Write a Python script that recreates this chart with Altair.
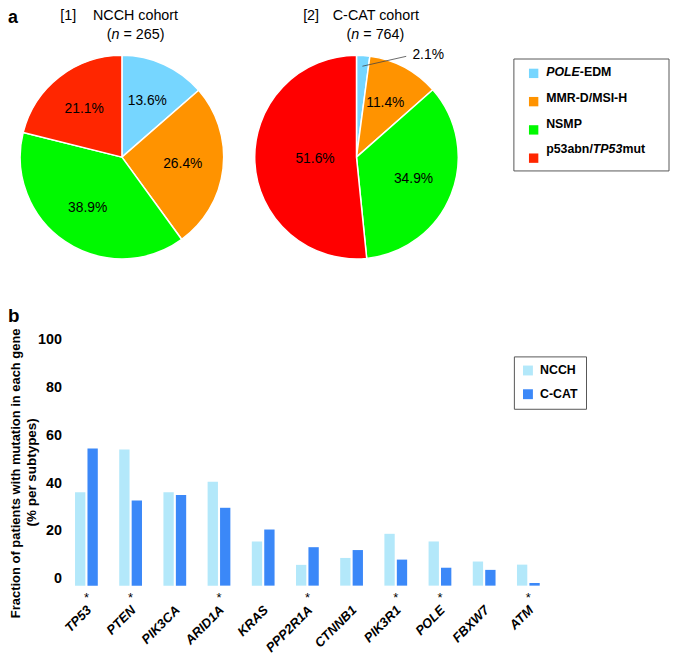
import altair as alt
import pandas as pd

FONT = "Liberation Sans"

# ---------------- data ----------------
subtypes = ["POLE-EDM", "MMR-D/MSI-H", "NSMP", "p53abn/TP53mut"]
ncch_pct = [13.6, 26.4, 38.9, 21.1]
ccat_pct = [2.1, 11.4, 34.9, 51.6]

genes = ["TP53", "PTEN", "PIK3CA", "ARID1A", "KRAS", "PPP2R1A",
         "CTNNB1", "PIK3R1", "POLE", "FBXW7", "ATM"]
ncch_mut = [39.1, 57.0, 39.1, 43.5, 18.5, 8.7, 11.6, 21.7, 18.5, 10.1, 8.8]
ccat_mut = [57.4, 35.6, 38.0, 32.6, 23.5, 16.1, 14.9, 10.9, 7.5, 6.6, 1.1]
significant = ["TP53", "PTEN", "ARID1A", "PPP2R1A", "PIK3R1", "POLE", "ATM"]
cohorts = ["NCCH", "C-CAT"]

pie_colors1 = ["#76D6FF", "#FF9300", "#00F900", "#FF2600"]
pie_colors2 = ["#76D6FF", "#FF9300", "#00F900", "#FF0000"]
bar_colors = ["#B3E8FA", "#3B88F8"]

pie1 = pd.DataFrame({"subtype": subtypes, "pct": ncch_pct, "k": range(4)})
pie2 = pd.DataFrame({"subtype": subtypes, "pct": ccat_pct, "k": range(4)})
bars_df = pd.DataFrame(
    [{"gene": g, "cohort": "NCCH", "value": v} for g, v in zip(genes, ncch_mut)]
    + [{"gene": g, "cohort": "C-CAT", "value": v} for g, v in zip(genes, ccat_mut)]
)
star_df = pd.DataFrame({"gene": significant})
dummy = pd.DataFrame({"d": [0]})

W, H = 670, 649
C1 = (115.3, 147)
C2 = (352.7, 147)
R = 103


def txt(s, x, y, size=14.5, weight="normal", style="normal", align="left",
        baseline="middle", angle=0):
    return alt.Chart(dummy).mark_text(
        text=s, font=FONT, fontSize=size, fontWeight=weight, fontStyle=style,
        align=align, baseline=baseline, angle=angle, color="black"
    ).encode(x=alt.value(x), y=alt.value(y))


def arcs(df, c, colors, legend):
    return alt.Chart(df).mark_arc(outerRadius=R, stroke="white", strokeWidth=1.5).encode(
        theta=alt.Theta("pct:Q", stack=True),
        color=alt.Color("subtype:N", scale=alt.Scale(domain=subtypes, range=colors),
                        legend=legend),
        order=alt.Order("k:Q"),
        x=alt.value(c[0]), y=alt.value(c[1]),
    )


def pie_labels(df, c):
    return alt.Chart(df).transform_calculate(
        lab="datum.pct > 5 ? format(datum.pct, '.1f') + '%' : ''"
    ).mark_text(
        radius=alt.expr("datum.pct > 50 ? 42 : 62"), font=FONT, fontSize=14, color="black"
    ).encode(
        theta=alt.Theta("pct:Q", stack=True),
        order=alt.Order("k:Q"),
        text="lab:N",
        x=alt.value(c[0]), y=alt.value(c[1]),
    )


LEG_Y0, LEG_STEP = 61, 26.1
pie_legend = alt.Legend(
    orient="none", legendX=526, legendY=LEG_Y0 - 4.75, title=None, symbolType="square",
    symbolSize=90, symbolStrokeWidth=0, labelFont=FONT, labelFontSize=12,
    labelExpr="''", labelOffset=0, rowPadding=LEG_STEP - 9.5, padding=0,
)

p1 = arcs(pie1, C1, pie_colors1, pie_legend)
p2 = arcs(pie2, C2, pie_colors2, None)
l1 = pie_labels(pie1, C1)
l2 = pie_labels(pie2, C2)

small_lab = alt.Chart(pie2).transform_calculate(
    lab="datum.pct < 5 ? format(datum.pct, '.1f') + '%' : ''"
).mark_text(radius=100, align="left", dx=50, dy=-4, font=FONT, fontSize=14,
            color="black").encode(
    theta=alt.Theta("pct:Q", stack=True), order=alt.Order("k:Q"), text="lab:N",
    x=alt.value(C2[0]), y=alt.value(C2[1]),
)
leader = alt.Chart(dummy).mark_rule(color="#444", strokeWidth=0.8).encode(
    x=alt.value(358.7), y=alt.value(55), x2=alt.value(403), y2=alt.value(45)
)

legend_box = alt.Chart(dummy).mark_rect(fillOpacity=0, stroke="#555", strokeWidth=1).encode(
    x=alt.value(512), x2=alt.value(669), y=alt.value(47.7), y2=alt.value(161)
)

# legend labels with mixed italic segments
LX = 544.7
LS = 12.5
TY = LEG_Y0
leg_texts = [
    txt("POLE", LX, TY, size=LS, weight="bold", style="italic"),
    txt("-EDM", LX + 34.0, TY, size=LS, weight="bold"),
    txt("MMR-D/MSI-H", LX, TY + LEG_STEP, size=LS, weight="bold"),
    txt("NSMP", LX, TY + 2 * LEG_STEP, size=LS, weight="bold"),
    txt("p53abn/", LX, TY + 3 * LEG_STEP, size=LS, weight="bold"),
    txt("TP53", LX + 47.2, TY + 3 * LEG_STEP, size=LS, weight="bold", style="italic"),
    txt("mut", LX + 77.3, TY + 3 * LEG_STEP, size=LS, weight="bold"),
]

# ---------------- bar chart ----------------
x_scale = alt.Scale(domain=genes, range=[57, 549], paddingInner=0.485, paddingOuter=0.2425)
x_axis = alt.Axis(
    title=None, labelAngle=-45, labelAlign="right", labelBaseline="middle",
    labelFont=FONT, labelFontSize=13.2, labelFontWeight="bold", labelFontStyle="italic",
    labelColor="black", domain=False, ticks=False, tickSize=0, labelPadding=0,
    offset=-46, labelOffset=3, labelOverlap=False, labelLimit=300,
)
x_enc = alt.X("gene:N", sort=genes, scale=x_scale, axis=x_axis)

bars = alt.Chart(bars_df).mark_bar().encode(
    x=x_enc,
    xOffset=alt.XOffset("cohort:N", sort=cohorts, scale=alt.Scale(domain=cohorts, paddingInner=0.17)),
    y=alt.Y("value:Q", scale=alt.Scale(domain=[0, 100], range=[580.7, 339]),
            axis=alt.Axis(values=[0, 20, 40, 60, 80, 100], title=None, grid=False,
                          domain=False, ticks=False, tickSize=0, labelPadding=0,
                          offset=-54, labelOffset=-7, labelFont=FONT, labelFontSize=14.5,
                          labelFontWeight="bold", labelColor="black", labelOverlap=False)),
    color=alt.Color("cohort:N", sort=cohorts,
                    scale=alt.Scale(domain=cohorts, range=bar_colors),
                    legend=alt.Legend(orient="none", legendX=512, legendY=348.7, title=None,
                                      strokeColor="#555", fillColor="white", padding=8,
                                      symbolType="square", symbolSize=100, symbolStrokeWidth=0,
                                      labelFont=FONT, labelFontSize=12.5, labelFontWeight="bold",
                                      labelColor="black", labelOffset=6, rowPadding=11)),
)

stars = alt.Chart(star_df).mark_text(text="*", font=FONT, fontSize=13, baseline="alphabetic",
                                     color="black").encode(x=x_enc, y=alt.value(597))

# ---------------- annotations ----------------
annos = [
    txt("a", 0, 11, size=18, weight="bold", baseline="alphabetic"),
    txt("b", 0, 314, size=19, weight="bold", baseline="alphabetic"),
    txt("[1]", 53, 4.5), txt("NCCH cohort", 86, 4.5),
    txt("(", 100, 23), txt("n", 104.8, 23, style="italic"), txt("= 265)", 116.9, 23),
    txt("[2]", 298.7, 4.5), txt("C-CAT cohort", 328.7, 4.5),
    txt("(", 342.7, 23), txt("n", 347.5, 23, style="italic"), txt("= 764)", 359.6, 23),
    txt("Fraction of patients with mutation in each gene", 8.5, 467, size=13.1,
        weight="bold", align="center", angle=270),
    txt("(% per subtypes)", 24, 466, size=13.6, weight="bold", align="center", angle=270),
]

chart = alt.layer(
    legend_box, p1, p2, l1, l2, small_lab, leader, bars, stars, *leg_texts, *annos
).resolve_scale(color="independent").properties(
    width=W, height=H, autosize=alt.AutoSizeParams(type="none"), padding=0
).configure_view(strokeWidth=0)

chart.save("out.html", embed_options={"renderer": "svg", "actions": False})
